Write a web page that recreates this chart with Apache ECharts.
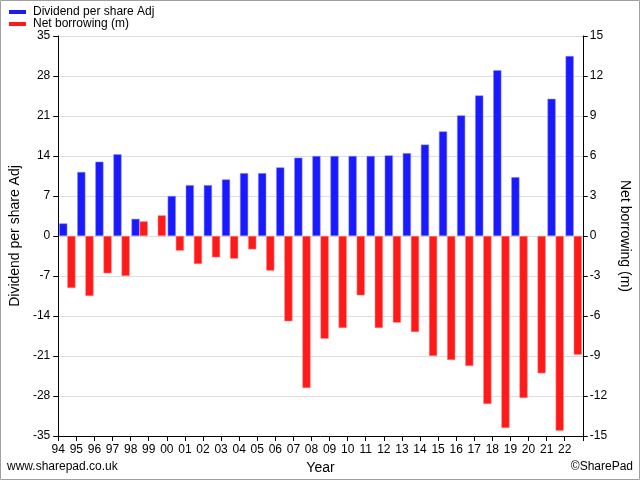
<!DOCTYPE html>
<html>
<head>
<meta charset="utf-8">
<script src="https://cdn.jsdelivr.net/npm/echarts@6/dist/echarts.min.js"></script>
<style>
html,body{margin:0;padding:0;background:#fff;}
#chart{width:640px;height:480px;}
</style>
</head>
<body>
<div id="chart"></div>
<script>
var years = ['94','95','96','97','98','99','00','01','02','03','04','05','06','07','08','09','10','11','12','13','14','15','16','17','18','19','20','21','22'];
var dividend = [2.2, 11.2, 13.0, 14.3, 3.0, null, 7.0, 8.9, 8.9, 9.9, 11.0, 11.0, 12.0, 13.7, 14.0, 14.0, 14.0, 14.0, 14.1, 14.5, 16.0, 18.3, 21.1, 24.6, 29.0, 10.3, null, 24.0, 31.5];
var netBorrowing = [-3.9, -4.5, -2.8, -3.0, 1.1, 1.55, -1.1, -2.1, -1.6, -1.7, -1.0, -2.6, -6.4, -11.4, -7.7, -6.9, -4.45, -6.9, -6.5, -7.2, -9.0, -9.3, -9.75, -12.6, -14.4, -12.15, -10.3, -14.6, -8.9];
var leftTicks = {min: -35, max: 35, interval: 7};
var rightTicks = {min: -15, max: 15, interval: 3};

var FONT = 'Liberation Sans';
var chart = echarts.init(document.getElementById('chart'), null, {renderer: 'canvas'});
chart.setOption({
  animation: false,
  textStyle: {fontFamily: FONT},
  legend: {
    orient: 'vertical', left: 4, top: 1, itemWidth: 17, itemHeight: 4, itemGap: 0,
    icon: 'rect',
    itemStyle: {borderWidth: 0},
    textStyle: {fontFamily: FONT, fontSize: 12, color: '#000', lineHeight: 11, padding: [0,0,0,2]},
    data: ['Dividend per share Adj', 'Net borrowing (m)']
  },
  grid: {left: 50, right: 51, top: 36, bottom: 44, containLabel: false},
  xAxis: {
    type: 'category', data: years, boundaryGap: true,
    name: 'Year', nameLocation: 'middle', nameGap: 23,
    nameTextStyle: {fontFamily: FONT, fontSize: 14, color: '#000'},
    axisLine: {onZero: false, lineStyle: {color: '#000', width: 1}},
    axisTick: {show: true, length: 5, lineStyle: {color: '#000'}},
    axisLabel: {color: '#000', fontSize: 12, fontFamily: FONT, margin: 8, interval: 0, padding: [0, 18, 0, 0]},
    splitLine: {show: false}
  },
  yAxis: [{
    type: 'value', min: leftTicks.min, max: leftTicks.max, interval: leftTicks.interval,
    name: 'Dividend per share Adj', nameLocation: 'middle', nameGap: 30, nameRotate: 90,
    nameTextStyle: {fontFamily: FONT, fontSize: 14, color: '#000'},
    axisLine: {show: true, lineStyle: {color: '#000'}},
    axisTick: {show: true, length: 5, lineStyle: {color: '#000'}},
    axisLabel: {color: '#000', fontSize: 12, fontFamily: FONT, margin: 8},
    splitLine: {show: true, lineStyle: {color: '#dddddd', width: 1}}
  }, {
    type: 'value', position: 'right', min: rightTicks.min, max: rightTicks.max, interval: rightTicks.interval,
    name: 'Net borrowing (m)', nameLocation: 'middle', nameGap: 32, nameRotate: -90,
    nameTextStyle: {fontFamily: FONT, fontSize: 14, color: '#000'},
    axisLine: {show: true, lineStyle: {color: '#000'}},
    axisTick: {show: true, length: 5, lineStyle: {color: '#000'}},
    axisLabel: {color: '#000', fontSize: 12, fontFamily: FONT, margin: 7},
    splitLine: {show: false}
  }],
  series: [{
    name: 'Dividend per share Adj', type: 'bar', yAxisIndex: 0, data: dividend,
    barGap: '0%', barCategoryGap: '10%',
    itemStyle: {color: '#1a1aff', borderColor: '#8c8cff', borderWidth: 0.5}
  }, {
    name: 'Net borrowing (m)', type: 'bar', yAxisIndex: 1, data: netBorrowing,
    barGap: '0%', barCategoryGap: '10%',
    itemStyle: {color: '#ff1a1a', borderColor: '#ff8c8c', borderWidth: 0.5}
  }],
  graphic: [
    {type: 'rect', shape: {x: 0.5, y: 0.5, width: 639, height: 479}, style: {fill: 'none', stroke: '#a0a0a0', lineWidth: 1}, silent: true},
    {type: 'text', left: 7, top: 461, style: {text: 'www.sharepad.co.uk', font: '12px "Liberation Sans"', fill: '#000'}},
    {type: 'text', right: 7, top: 461, style: {text: '\u00A9SharePad', font: '12px "Liberation Sans"', fill: '#000'}}
  ]
});
</script>
</body>
</html>
